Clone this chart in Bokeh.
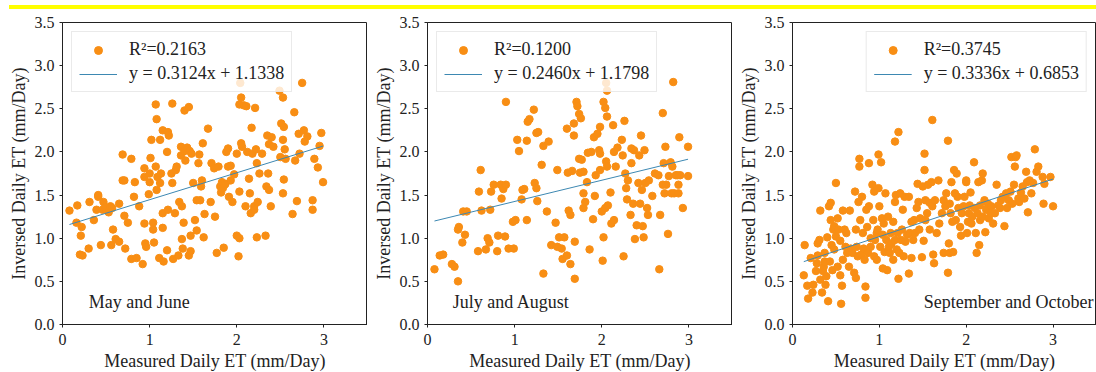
from bokeh.plotting import figure
from bokeh.layouts import row, column
from bokeh.models import (Div, Label, Legend, LegendItem, FixedTicker,
                          PrintfTickFormatter)
from bokeh.embed import file_html
from bokeh.resources import INLINE

# ---------------- data: measured vs. inversed daily ET (mm/Day) ----------------
may_jun_x = [0.08, 0.17, 0.16, 0.22, 0.21, 0.20, 0.23, 0.30, 0.31, 0.36, 0.39, 0.41, 0.41,
             0.44, 0.47, 0.46, 0.49, 0.53, 0.55, 0.56, 0.58, 0.61, 0.65, 0.65, 0.57, 0.69,
             0.69, 0.71, 0.71, 0.72, 0.75, 0.79, 0.79, 0.82, 0.83, 0.85, 0.88, 0.92, 0.94,
             0.94, 0.94, 0.95, 0.96, 0.99, 1.00, 1.00, 1.01, 1.02, 1.04, 1.04, 1.05, 1.07,
             1.08, 1.07, 1.08, 1.09, 1.11, 1.12, 1.12, 1.13, 1.15, 1.15, 1.15, 1.16, 1.20,
             1.21, 1.22, 1.21, 1.20, 1.26, 1.25, 1.26, 1.27, 1.29, 1.30, 1.31, 1.33, 1.34,
             1.36, 1.36, 1.37, 1.37, 1.38, 1.39, 1.40, 1.40, 1.41, 1.43, 1.45, 1.46, 1.45,
             1.47, 1.47, 1.48, 1.50, 1.52, 1.54, 1.54, 1.56, 1.57, 1.58, 1.59, 1.60, 1.61,
             1.62, 1.63, 1.67, 1.70, 1.71, 1.74, 1.75, 1.77, 1.79, 1.81, 1.82, 1.83, 1.85,
             1.87, 1.88, 1.90, 1.90, 1.91, 1.93, 1.93, 1.95, 1.97, 2.00, 2.00, 2.02, 2.03,
             2.03, 2.05, 2.05, 2.03, 2.04, 2.06, 2.08, 2.10, 2.11, 2.12, 2.14, 2.15, 2.16,
             2.17, 2.18, 2.20, 2.20, 2.21, 2.22, 2.23, 2.23, 2.24, 2.26, 2.29, 2.33, 2.34,
             2.35, 2.36, 2.37, 2.37, 2.39, 2.40, 2.42, 2.49, 2.50, 2.51, 2.53, 2.54, 2.53,
             2.53, 2.54, 2.55, 2.56, 2.66, 2.64, 2.67, 2.69, 2.71, 2.72, 2.75, 2.77, 2.78,
             2.81, 2.87, 2.87, 2.89, 2.93, 2.95, 2.97, 2.99, 1.84, 1.86]
may_jun_y = [1.32, 1.38, 1.18, 1.13, 1.03, 0.81, 0.80, 0.88, 1.42, 1.21, 1.33, 1.48, 1.50,
             0.92, 1.42, 1.33, 1.36, 1.30, 1.37, 0.92, 1.10, 0.99, 0.96, 1.40, 1.35, 1.67,
             1.97, 1.67, 1.26, 0.88, 1.18, 1.92, 0.76, 1.48, 1.65, 0.77, 1.37, 0.70, 1.81,
             1.71, 1.17, 0.94, 0.90, 1.51, 1.65, 1.75, 1.93, 2.14, 1.18, 1.10, 0.95, 2.55,
             2.38, 1.83, 1.56, 1.71, 0.77, 2.14, 1.64, 1.75, 1.29, 2.25, 1.12, 0.73, 2.00,
             2.23, 2.19, 1.33, 0.86, 2.56, 1.75, 1.64, 0.76, 1.29, 1.79, 1.83, 0.80, 1.42,
             1.96, 2.06, 1.37, 0.99, 0.88, 1.18, 2.48, 2.01, 1.90, 2.05, 2.52, 2.01, 0.80,
             0.85, 1.03, 1.98, 1.64, 1.21, 1.09, 1.44, 1.87, 1.97, 1.44, 1.60, 1.67, 2.10,
             1.01, 1.28, 2.27, 1.42, 1.87, 1.81, 1.25, 0.83, 1.83, 1.60, 1.53, 1.65, 0.89,
             1.63, 2.00, 1.83, 2.04, 1.48, 1.84, 1.67, 1.42, 1.74, 1.98, 1.03, 0.79, 1.00,
             1.54, 2.10, 2.63, 2.55, 2.80, 2.06, 2.54, 1.37, 2.53, 2.00, 1.69, 1.52, 1.29,
             2.28, 1.98, 1.37, 1.33, 2.51, 2.03, 1.87, 1.01, 1.42, 1.75, 1.98, 1.03, 1.60,
             2.19, 1.75, 2.09, 1.56, 1.37, 2.17, 2.06, 2.71, 1.94, 2.33, 2.63, 2.29, 2.14,
             1.52, 1.68, 2.03, 1.92, 2.46, 1.28, 1.90, 1.43, 2.21, 1.98, 2.80, 2.25, 2.12,
             2.18, 1.44, 1.33, 1.92, 1.82, 2.07, 2.22, 1.65, 1.58, 1.62]

jul_aug_x = [0.08, 0.14, 0.18, 0.28, 0.31, 0.35, 0.35, 0.36, 0.40, 0.43, 0.41, 0.45, 0.58,
             0.59, 0.61, 0.62, 0.67, 0.69, 0.71, 0.72, 0.73, 0.76, 0.80, 0.81, 0.84, 0.85,
             0.87, 0.89, 0.90, 0.90, 0.93, 0.99, 0.98, 1.01, 1.03, 1.05, 1.08, 1.09, 1.11,
             1.14, 1.14, 1.15, 1.17, 1.22, 1.23, 1.25, 1.26, 1.25, 1.27, 1.31, 1.33, 1.33,
             1.37, 1.39, 1.42, 1.47, 1.49, 1.49, 1.51, 1.54, 1.55, 1.57, 1.60, 1.60, 1.61,
             1.62, 1.64, 1.64, 1.66, 1.68, 1.68, 1.69, 1.69, 1.71, 1.72, 1.74, 1.75, 1.76,
             1.74, 1.77, 1.79, 1.79, 1.79, 1.81, 1.83, 1.84, 1.86, 1.88, 1.90, 1.91, 1.92,
             1.93, 1.95, 1.97, 1.98, 1.98, 1.98, 2.00, 2.01, 2.02, 2.02, 2.04, 2.05, 2.06,
             2.06, 2.04, 2.07, 2.05, 2.06, 2.10, 2.11, 2.13, 2.14, 2.14, 2.16, 2.18, 2.23,
             2.24, 2.25, 2.26, 2.27, 2.28, 2.29, 2.30, 2.33, 2.34, 2.34, 2.36, 2.37, 2.38,
             2.40, 2.42, 2.43, 2.44, 2.45, 2.46, 2.47, 2.48, 2.49, 2.50, 2.52, 2.53, 2.54,
             2.58, 2.61, 2.65, 2.66, 2.67, 2.70, 2.70, 2.71, 2.72, 2.73, 2.74, 2.76, 2.77,
             2.79, 2.80, 2.81, 2.82, 2.83, 2.85, 2.87, 2.88, 2.88, 2.89, 2.90, 2.93, 2.99,
             2.99]
jul_aug_y = [0.64, 0.80, 0.81, 0.70, 0.67, 0.50, 1.10, 1.13, 0.95, 1.04, 1.31, 1.31, 0.85,
             1.54, 1.79, 1.32, 0.87, 1.00, 0.95, 1.33, 1.54, 1.62, 0.85, 1.03, 1.62, 1.46,
             1.57, 1.02, 2.58, 1.62, 0.88, 0.88, 1.19, 1.21, 2.14, 2.01, 1.45, 1.56, 1.57,
             1.21, 2.13, 2.35, 2.38, 2.49, 1.64, 1.58, 1.43, 2.22, 2.23, 1.85, 0.59, 2.07,
             1.31, 2.12, 0.92, 1.18, 1.79, 0.90, 1.01, 0.88, 0.76, 1.01, 0.80, 2.27, 1.76,
             1.32, 0.70, 1.27, 1.78, 2.19, 2.33, 0.53, 0.96, 2.58, 2.53, 2.44, 1.76, 2.39,
             1.92, 1.91, 1.77, 1.35, 1.52, 1.42, 1.65, 1.99, 0.87, 2.00, 1.22, 2.17, 1.49,
             1.73, 2.21, 2.02, 2.29, 1.98, 1.79, 1.31, 0.74, 1.01, 2.58, 2.51, 2.80, 2.71,
             2.41, 1.35, 1.38, 1.89, 1.83, 1.53, 1.17, 2.31, 1.21, 2.00, 1.83, 2.05, 2.14,
             1.96, 0.79, 2.36, 1.75, 1.58, 1.45, 1.67, 1.27, 1.87, 2.04, 1.40, 2.02, 0.99,
             1.15, 1.64, 1.96, 1.40, 2.19, 1.56, 1.14, 1.01, 2.02, 1.64, 1.35, 1.27, 1.67,
             1.49, 1.75, 1.73, 0.64, 1.27, 1.62, 2.45, 1.87, 1.52, 2.06, 1.62, 1.05, 1.72,
             1.88, 1.52, 1.83, 2.81, 1.52, 1.73, 1.73, 1.62, 1.52, 2.17, 1.73, 1.35, 2.06,
             1.72]

sep_oct_x = [0.13, 0.14, 0.17, 0.18, 0.21, 0.23, 0.24, 0.27, 0.28, 0.29, 0.29, 0.31, 0.32,
             0.32, 0.34, 0.35, 0.36, 0.37, 0.37, 0.38, 0.39, 0.40, 0.41, 0.42, 0.43, 0.44,
             0.44, 0.45, 0.46, 0.47, 0.48, 0.48, 0.50, 0.50, 0.52, 0.52, 0.53, 0.55, 0.55,
             0.56, 0.57, 0.58, 0.58, 0.60, 0.61, 0.62, 0.63, 0.65, 0.66, 0.67, 0.69, 0.71,
             0.72, 0.73, 0.73, 0.74, 0.75, 0.76, 0.77, 0.77, 0.78, 0.79, 0.80, 0.81, 0.82,
             0.83, 0.84, 0.84, 0.85, 0.86, 0.87, 0.88, 0.88, 0.90, 0.90, 0.92, 0.93, 0.94,
             0.94, 0.95, 0.97, 0.97, 0.98, 0.99, 0.99, 1.00, 1.01, 1.02, 1.03, 1.04, 1.04,
             1.05, 1.06, 1.07, 1.08, 1.09, 1.10, 1.11, 1.12, 1.13, 1.14, 1.16, 1.16, 1.18,
             1.18, 1.18, 1.19, 1.20, 1.21, 1.22, 1.22, 1.23, 1.24, 1.25, 1.26, 1.27, 1.28,
             1.29, 1.30, 1.32, 1.34, 1.34, 1.35, 1.37, 1.37, 1.39, 1.40, 1.41, 1.43, 1.44,
             1.45, 1.46, 1.47, 1.49, 1.50, 1.51, 1.52, 1.52, 1.53, 1.53, 1.55, 1.56, 1.58,
             1.58, 1.60, 1.61, 1.61, 1.62, 1.63, 1.64, 1.66, 1.68, 1.69, 1.72, 1.74, 1.74,
             1.76, 1.77, 1.79, 1.79, 1.80, 1.81, 1.81, 1.82, 1.83, 1.84, 1.85, 1.86, 1.87,
             1.88, 1.89, 1.90, 1.91, 1.93, 1.94, 1.95, 1.97, 1.98, 2.00, 2.00, 2.01, 2.02,
             2.03, 2.04, 2.05, 2.06, 2.07, 2.09, 2.10, 2.11, 2.12, 2.13, 2.14, 2.15, 2.16,
             2.16, 2.18, 2.19, 2.19, 2.21, 2.22, 2.23, 2.25, 2.26, 2.28, 2.29, 2.31, 2.33,
             2.35, 2.37, 2.39, 2.40, 2.42, 2.44, 2.46, 2.47, 2.49, 2.51, 2.52, 2.53, 2.55,
             2.56, 2.57, 2.58, 2.60, 2.61, 2.63, 2.65, 2.67, 2.69, 2.70, 2.71, 2.73, 2.75,
             2.77, 2.79, 2.81, 2.83, 2.88, 2.89, 2.90, 2.97, 3.00]
sep_oct_y = [0.57, 0.92, 0.45, 0.30, 0.77, 0.37, 0.46, 0.62, 0.71, 0.80, 0.94, 0.98, 0.52,
             1.32, 0.37, 0.62, 0.67, 0.73, 0.83, 0.46, 0.56, 1.01, 0.27, 1.37, 0.73, 1.41,
             1.21, 0.92, 0.63, 1.10, 0.87, 1.14, 1.64, 1.02, 0.67, 1.23, 1.10, 0.57, 0.97,
             0.24, 0.45, 1.32, 0.75, 1.10, 0.90, 1.06, 0.83, 0.67, 1.32, 0.88, 0.83, 0.60,
             1.54, 1.10, 0.54, 0.90, 0.79, 1.42, 1.92, 1.83, 1.21, 0.81, 1.48, 1.06, 0.88,
             0.75, 0.44, 0.31, 1.33, 1.13, 0.83, 1.87, 1.37, 1.00, 0.90, 1.62, 1.21, 0.79,
             1.54, 0.98, 1.06, 0.75, 1.10, 1.97, 1.58, 1.37, 0.90, 1.88, 1.23, 0.65, 1.04,
             1.17, 0.84, 1.52, 0.98, 0.63, 1.25, 0.90, 0.83, 1.06, 0.94, 0.75, 1.19, 0.98,
             2.12, 1.42, 1.50, 0.87, 1.06, 2.23, 0.53, 0.83, 1.52, 0.98, 1.10, 1.33, 0.79,
             1.48, 0.96, 1.04, 1.48, 0.59, 1.06, 0.77, 1.19, 0.98, 1.21, 1.06, 1.35, 1.63,
             1.42, 1.10, 1.23, 0.78, 1.60, 0.97, 1.98, 1.79, 1.44, 1.21, 1.29, 1.62, 1.10,
             1.41, 1.65, 2.37, 1.37, 0.81, 0.71, 1.44, 1.06, 1.67, 1.17, 1.29, 0.83, 1.44,
             1.37, 1.52, 0.60, 2.13, 0.94, 0.83, 1.40, 1.29, 1.65, 1.19, 0.84, 1.79, 1.52,
             1.21, 1.75, 1.48, 1.35, 1.13, 1.03, 1.29, 1.37, 1.48, 1.65, 1.67, 1.06, 1.19,
             1.29, 1.38, 1.53, 1.17, 1.25, 1.88, 1.35, 1.06, 0.83, 1.29, 1.65, 0.92, 1.21,
             1.38, 1.67, 1.75, 1.25, 1.44, 1.07, 1.33, 1.40, 1.23, 1.29, 1.37, 1.17, 1.29,
             1.62, 1.38, 1.35, 1.44, 1.48, 1.14, 1.52, 1.35, 1.44, 1.54, 1.94, 1.40, 1.62,
             1.83, 1.94, 1.96, 1.46, 1.42, 1.53, 1.60, 1.46, 1.77, 1.65, 1.30, 1.67, 1.52,
             1.64, 2.03, 1.77, 1.83, 1.71, 1.40, 1.63, 1.71, 1.37]

panels = [
    dict(x=may_jun_x, y=may_jun_y, r2="0.2163", slope=0.3124, intercept=1.1338,
         period="May and June", period_x=0.30, legend_side="top_left"),
    dict(x=jul_aug_x, y=jul_aug_y, r2="0.1200", slope=0.2460, intercept=1.1798,
         period="July and August", period_x=0.29, legend_side="top_left"),
    dict(x=sep_oct_x, y=sep_oct_y, r2="0.3745", slope=0.3336, intercept=0.6853,
         period="September and October", period_x=1.51, legend_side="top_right"),
]

x_ticks = [0, 1, 2, 3]
y_ticks = [0.0, 0.5, 1.0, 1.5, 2.0, 2.5, 3.0, 3.5]

FONT = "Liberation Serif"
DOT = "#f88e14"
FIT = "#3d88b2"
INK = "#222222"

# left border of each panel and its frame width (pixels)
borders = [62, 60, 60]
frame_widths = [305, 305, 304]


def make_panel(d, left, fw):
    p = figure(frame_width=fw, frame_height=302, x_range=(0, 3.5), y_range=(0, 3.5),
               min_border_left=left, min_border_right=0, min_border_top=13,
               min_border_bottom=48, output_backend="svg", toolbar_location=None,
               background_fill_color="white", border_fill_color="white")
    p.xgrid.visible = False
    p.ygrid.visible = False
    p.outline_line_color = INK
    p.outline_line_width = 1

    pts = p.scatter(d["x"], d["y"], size=7.5, color=DOT, line_color=DOT)
    x0, x1 = min(d["x"]), max(d["x"])
    fit = p.line([x0, x1], [d["slope"] * x0 + d["intercept"], d["slope"] * x1 + d["intercept"]],
                 line_color=FIT, line_width=1)

    for ax in (p.xaxis[0], p.yaxis[0]):
        ax.axis_line_color = INK
        ax.major_tick_line_color = INK
        ax.major_tick_out = 3
        ax.major_tick_in = 0
        ax.minor_tick_line_color = None
        ax.major_label_text_font = FONT
        ax.major_label_text_font_size = "16px"
        ax.major_label_text_color = "#222222"
        ax.axis_label_text_font = FONT
        ax.axis_label_text_font_size = "18px"
        ax.axis_label_text_font_style = "normal"
        ax.axis_label_text_color = "#222222"

    p.xaxis.ticker = FixedTicker(ticks=x_ticks)
    p.yaxis.ticker = FixedTicker(ticks=y_ticks)
    p.yaxis.formatter = PrintfTickFormatter(format="%.1f")
    p.xaxis.axis_label = "Measured Daily ET (mm/Day)"
    p.yaxis.axis_label = "Inversed Daily ET (mm/Day)"
    p.xaxis.major_label_standoff = 6
    p.yaxis.major_label_standoff = 5
    p.xaxis.axis_label_standoff = 3
    p.yaxis.axis_label_standoff = 3

    eq = f"y = {d['slope']:.4f}x + {d['intercept']:.4f}"
    legend = Legend(items=[LegendItem(label=f"R\u00b2={d['r2']}", renderers=[pts]),
                           LegendItem(label=eq, renderers=[fit])],
                    location=d["legend_side"], margin=9, padding=7, spacing=3,
                    glyph_width=38, glyph_height=20, label_standoff=12,
                    label_text_font=FONT, label_text_font_size="18px",
                    label_text_color="#222222",
                    border_line_color="#d6d6d6", border_line_width=1,
                    background_fill_color="white", background_fill_alpha=0.8)
    p.add_layout(legend)

    p.add_layout(Label(x=d["period_x"], y=0.26, text=d["period"], text_font=FONT,
                       text_font_size="18px", text_color="#222222",
                       text_baseline="alphabetic"))
    return p


figs = [make_panel(d, b, w) for d, b, w in zip(panels, borders, frame_widths)]

highlight = Div(text="", width=1087, height=4, margin=(5, 0, 0, 9),
                styles={"background-color": "#ffff00"})

layout = column(highlight, row(*figs, spacing=0), spacing=0)

open("out.html", "w").write(file_html(layout, INLINE))
